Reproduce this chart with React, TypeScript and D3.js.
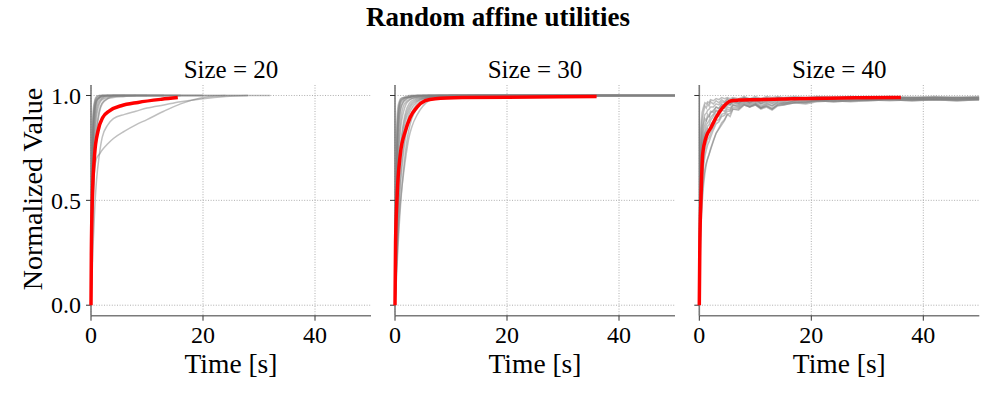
import React from 'react';
import * as d3 from 'd3';

// --- data ---
const chartTitle = 'Random affine utilities';
const panelTitles = ['Size = 20', 'Size = 30', 'Size = 40'];
const xTicks = [0, 20, 40];
const yTicks = [0, 0.5, 1];
const yTickLabels = ['0.0', '0.5', '1.0'];

// Size = 20
const times20 = [0, 0.2, 0.4, 0.7, 1, 1.5, 2, 3, 4, 6, 8, 10, 13, 16, 20, 24, 28, 32];
const runs20 = [
  [0, 0.62, 0.86, 0.95, 0.98, 0.99, 1.0, 1.0, 1.0, 1.0],
  [0, 0.55, 0.8, 0.93, 0.97, 0.99, 0.995, 1.0, 1.0, 1.0, 1.0, 1.0],
  [0, 0.45, 0.72, 0.88, 0.95, 0.98, 0.99, 1.0, 1.0, 1.0, 1.0, 1.0, 1.0, 1.0],
  [0, 0.7, 0.9, 0.97, 0.99, 1.0, 1.0, 1.0],
  [0, 0.38, 0.62, 0.8, 0.9, 0.96, 0.98, 0.99, 1.0, 1.0, 1.0, 1.0, 1.0, 1.0, 1.0],
  [0, 0.5, 0.78, 0.92, 0.97, 0.99, 1.0, 1.0, 1.0, 1.0, 1.0, 1.0, 1.0, 1.0, 1.0, 1.0],
  [0, 0.3, 0.52, 0.72, 0.84, 0.93, 0.965, 0.985, 0.99, 0.995, 1.0, 1.0, 1.0],
  [0, 0.65, 0.88, 0.96, 0.985, 0.995, 1.0, 1.0, 1.0, 1.0, 1.0, 1.0, 1.0, 1.0, 1.0, 1.0, 1.0],
  [0, 0.42, 0.68, 0.85, 0.93, 0.97, 0.985, 0.995, 1.0, 1.0, 1.0],
  [0, 0.35, 0.55, 0.66, 0.7, 0.72, 0.74, 0.77, 0.795, 0.83, 0.86, 0.885, 0.925, 0.96, 0.99, 1.0, 1.0, 1.0],
  [0, 0.15, 0.3, 0.48, 0.6, 0.72, 0.8, 0.86, 0.89, 0.91, 0.925, 0.94, 0.955, 0.97, 0.985, 0.995, 1.0],
  [0, 0.58, 0.83, 0.94, 0.975, 0.99, 0.995, 1.0, 1.0, 1.0, 1.0, 1.0, 1.0, 1.0],
  [0, 0.25, 0.48, 0.7, 0.82, 0.92, 0.96, 0.985, 0.995, 1.0, 1.0, 1.0, 1.0, 1.0, 1.0],
  [0, 0.75, 0.93, 0.98, 0.995, 1.0, 1.0, 1.0, 1.0, 1.0, 1.0, 1.0, 1.0],
];
const meanTimes20 = [0, 0.06, 0.24, 0.65, 1.25, 2.1, 3.3, 5.4, 8.4, 12.6, 15.5];
const mean20 = [0, 0.24, 0.51, 0.72, 0.83, 0.895, 0.927, 0.951, 0.967, 0.982, 0.99];

// Size = 30
const times30 = [0, 0.25, 0.5, 0.75, 1, 1.5, 2, 2.5, 3, 4, 5, 6, 8, 10, 15, 20, 30, 40, 50];
const runs30 = [
  [0, 0.7, 0.9, 0.96, 0.98, 0.99, 0.99, 0.995, 0.995, 1, 1, 1, 1, 1, 1, 1, 1, 1, 1],
  [0, 0.55, 0.82, 0.92, 0.96, 0.98, 0.99, 0.99, 0.995, 0.995, 1, 1, 1, 1, 1, 1, 1, 1, 1],
  [0, 0.4, 0.66, 0.8, 0.88, 0.95, 0.97, 0.98, 0.985, 0.99, 0.995, 1, 1, 1, 1, 1, 1, 1],
  [0, 0.3, 0.52, 0.66, 0.76, 0.87, 0.93, 0.96, 0.975, 0.985, 0.99, 0.995, 1, 1, 1, 1, 1, 1, 1],
  [0, 0.2, 0.38, 0.52, 0.62, 0.76, 0.85, 0.91, 0.94, 0.97, 0.985, 0.99, 0.995, 1, 1, 1, 1, 1, 1],
  [0, 0.15, 0.3, 0.42, 0.5, 0.62, 0.72, 0.8, 0.85, 0.91, 0.95, 0.975, 0.99, 0.995, 1, 1, 1, 1],
  [0, 0.6, 0.86, 0.94, 0.97, 0.985, 0.99, 0.995, 1, 1, 1, 1, 1, 1, 1, 1, 1, 1, 1],
  [0, 0.35, 0.6, 0.75, 0.84, 0.92, 0.96, 0.975, 0.985, 0.99, 0.995, 1, 1, 1, 1, 1, 1, 1, 1],
  [0, 0.25, 0.45, 0.6, 0.7, 0.82, 0.89, 0.93, 0.955, 0.975, 0.985, 0.99, 0.995, 1, 1, 1, 1, 1, 1],
  [0, 0.45, 0.74, 0.87, 0.93, 0.97, 0.985, 0.99, 0.995, 1, 1, 1, 1, 1, 1, 1, 1],
  [0, 0.18, 0.34, 0.48, 0.58, 0.72, 0.82, 0.88, 0.92, 0.96, 0.98, 0.99, 0.995, 1, 1, 1, 1, 1, 1],
  [0, 0.8, 0.94, 0.97, 0.985, 0.99, 0.995, 1, 1, 1, 1, 1, 1, 1, 1, 1, 1, 1, 1],
  [0, 0.28, 0.5, 0.64, 0.74, 0.85, 0.91, 0.945, 0.965, 0.98, 0.99, 0.995, 1, 1, 1, 1, 1, 1, 1],
  [0, 0.5, 0.78, 0.89, 0.94, 0.97, 0.98, 0.99, 0.99, 0.995, 1, 1, 1, 1, 1, 1, 1, 1, 1],
  [0, 0.12, 0.26, 0.38, 0.48, 0.64, 0.76, 0.84, 0.89, 0.94, 0.97, 0.985, 0.99, 0.995, 1, 1, 1, 1, 1],
  [0, 0.65, 0.88, 0.95, 0.975, 0.985, 0.99, 0.99, 0.995, 1, 1, 1, 1, 1, 1, 1, 1, 1, 1],
];
const meanTimes30 = [0, 0.1, 0.36, 0.95, 1.85, 2.7, 3.9, 5.4, 7.2, 12, 20, 36];
const mean30 = [0, 0.3, 0.51, 0.72, 0.83, 0.895, 0.943, 0.975, 0.985, 0.99, 0.992, 0.995];

// Size = 40 (noisy runs)
const times40 = [0, 0.25, 0.5, 0.75, 1, 1.25, 1.5, 1.75, 2, 2.5, 3, 3.5, 4, 4.5, 5, 5.5, 6, 7, 8, 9, 10, 11, 12, 13, 14, 15, 17, 19, 21, 24, 27, 30, 34, 38, 42, 46, 50];
const runs40 = [
  [0, 0.78, 0.88, 0.92, 0.95, 0.94, 0.96, 0.95, 0.97, 0.96, 0.975, 0.965, 0.98, 0.97, 0.985, 0.975, 0.985, 0.975, 0.99, 0.98, 0.99, 0.975, 0.99, 0.98, 0.99, 0.985, 0.99, 0.985, 0.99, 0.99, 0.985, 0.99, 0.99, 0.985, 0.99, 0.99, 0.99],
  [0, 0.66, 0.8, 0.86, 0.89, 0.88, 0.91, 0.9, 0.925, 0.92, 0.945, 0.935, 0.955, 0.95, 0.97, 0.96, 0.975, 0.965, 0.98, 0.965, 0.98, 0.96, 0.975, 0.965, 0.98, 0.975, 0.985, 0.98, 0.99, 0.985, 0.99, 0.985, 0.99, 0.99, 0.985, 0.99, 0.99],
  [0, 0.52, 0.68, 0.76, 0.8, 0.82, 0.84, 0.83, 0.86, 0.88, 0.91, 0.9, 0.93, 0.925, 0.945, 0.94, 0.955, 0.95, 0.97, 0.955, 0.965, 0.945, 0.96, 0.95, 0.965, 0.96, 0.975, 0.97, 0.98, 0.975, 0.98, 0.98, 0.985, 0.98, 0.985, 0.98, 0.985],
  [0, 0.38, 0.52, 0.6, 0.65, 0.68, 0.7, 0.72, 0.74, 0.78, 0.82, 0.84, 0.86, 0.88, 0.91, 0.9, 0.935, 0.93, 0.955, 0.945, 0.955, 0.935, 0.945, 0.93, 0.95, 0.955, 0.965, 0.96, 0.97, 0.975, 0.97, 0.975, 0.98, 0.975, 0.98, 0.975, 0.98],
  [0, 0.58, 0.72, 0.8, 0.83, 0.86, 0.87, 0.88, 0.895, 0.91, 0.93, 0.925, 0.945, 0.94, 0.96, 0.955, 0.97, 0.96, 0.98, 0.965, 0.975, 0.96, 0.97, 0.96, 0.975, 0.97, 0.985, 0.98, 0.985, 0.99, 0.985, 0.99, 0.99, 0.985, 0.99, 0.985, 0.99],
  [0, 0.46, 0.6, 0.69, 0.74, 0.77, 0.79, 0.8, 0.82, 0.85, 0.88, 0.885, 0.91, 0.915, 0.935, 0.93, 0.955, 0.945, 0.965, 0.95, 0.96, 0.94, 0.955, 0.94, 0.96, 0.965, 0.97, 0.965, 0.975, 0.98, 0.975, 0.98, 0.985, 0.98, 0.985, 0.98, 0.985],
  [0, 0.72, 0.84, 0.88, 0.91, 0.915, 0.93, 0.935, 0.945, 0.945, 0.96, 0.955, 0.97, 0.965, 0.98, 0.97, 0.985, 0.975, 0.99, 0.975, 0.985, 0.97, 0.985, 0.975, 0.99, 0.985, 0.99, 0.985, 0.99, 0.99, 0.99, 0.985, 0.99, 0.99, 0.99, 0.985, 0.99],
  [0, 0.34, 0.48, 0.57, 0.63, 0.67, 0.7, 0.72, 0.745, 0.785, 0.82, 0.845, 0.87, 0.885, 0.91, 0.915, 0.935, 0.935, 0.955, 0.945, 0.96, 0.94, 0.95, 0.935, 0.955, 0.96, 0.965, 0.97, 0.975, 0.97, 0.975, 0.98, 0.975, 0.98, 0.98, 0.975, 0.98],
  [0, 0.62, 0.76, 0.83, 0.86, 0.88, 0.895, 0.9, 0.915, 0.93, 0.945, 0.94, 0.96, 0.955, 0.97, 0.965, 0.975, 0.965, 0.985, 0.97, 0.985, 0.965, 0.98, 0.97, 0.985, 0.98, 0.985, 0.985, 0.99, 0.985, 0.99, 0.99, 0.985, 0.99, 0.99, 0.99, 0.985],
  [0, 0.55, 0.7, 0.78, 0.82, 0.835, 0.855, 0.86, 0.88, 0.9, 0.925, 0.92, 0.94, 0.94, 0.955, 0.955, 0.965, 0.955, 0.975, 0.96, 0.97, 0.95, 0.965, 0.95, 0.97, 0.965, 0.975, 0.975, 0.98, 0.98, 0.985, 0.98, 0.985, 0.985, 0.98, 0.985, 0.985],
  [0, 0.84, 0.92, 0.945, 0.965, 0.96, 0.97, 0.965, 0.98, 0.975, 0.985, 0.98, 0.99, 0.985, 0.99, 0.985, 0.99, 0.985, 0.995, 0.985, 0.995, 0.985, 0.995, 0.99, 0.995, 0.99, 0.995, 0.99, 0.995, 0.99, 0.995, 0.99, 0.995, 0.99, 0.995, 0.99, 0.995],
  [0, 0.42, 0.57, 0.66, 0.71, 0.74, 0.765, 0.78, 0.8, 0.835, 0.865, 0.875, 0.9, 0.905, 0.925, 0.925, 0.945, 0.94, 0.96, 0.945, 0.955, 0.94, 0.95, 0.935, 0.955, 0.955, 0.965, 0.965, 0.975, 0.97, 0.975, 0.975, 0.98, 0.975, 0.98, 0.98, 0.98],
];
const meanTimes40 = [0, 0.1, 0.3, 0.6, 1.2, 2.1, 3, 4.2, 5.7, 7, 10, 15, 20, 28, 36];
const mean40 = [0, 0.3, 0.51, 0.72, 0.8, 0.847, 0.895, 0.943, 0.975, 0.978, 0.98, 0.983, 0.986, 0.989, 0.99];

const panels = [
  { title: panelTitles[0], times: times20, runs: runs20, meanTimes: meanTimes20, mean: mean20, smooth: true },
  { title: panelTitles[1], times: times30, runs: runs30, meanTimes: meanTimes30, mean: mean30, smooth: true },
  { title: panelTitles[2], times: times40, runs: runs40, meanTimes: meanTimes40, mean: mean40, smooth: false },
];

// layout
const W = 997;
const H = 399;
const panelLefts = [91, 395, 699.3];
const panelW = 280;
const top = 85;
const bottom = 315.7;
const font = '"Liberation Serif", "Times New Roman", serif';

const y = d3.scaleLinear().domain([-0.05, 1.05]).range([bottom, top]);

const Panel = ({ p, left, idx }) => {
  const x = d3.scaleLinear().domain([0, 50]).range([left, left + panelW]);
  const line = d3.line()
    .x(d => x(d[0]))
    .y(d => y(d[1]))
    .curve(p.smooth ? d3.curveMonotoneX : d3.curveLinear);
  const meanLine = d3.line()
    .x(d => x(d[0]))
    .y(d => y(d[1]))
    .curve(d3.curveMonotoneX);
  const clipId = 'clip' + idx;
  const cx = left + panelW / 2;

  return (
    <g>
      <defs>
        <clipPath id={clipId}>
          <rect x={left - 3} y={top} width={panelW + 3} height={bottom - top} />
        </clipPath>
      </defs>
      {/* grid */}
      {yTicks.map(t => (
        <line key={'gy' + t} x1={left} x2={left + panelW} y1={y(t)} y2={y(t)}
          stroke="#9a9a9a" strokeWidth={0.8} strokeDasharray="1,1.6" />
      ))}
      {xTicks.map(t => (
        <line key={'gx' + t} x1={x(t)} x2={x(t)} y1={top} y2={bottom}
          stroke="#9a9a9a" strokeWidth={0.8} strokeDasharray="1,1.6" />
      ))}
      {/* spines */}
      <line x1={left} x2={left} y1={top} y2={bottom} stroke="#7a7a7a" strokeWidth={1.6} />
      <line x1={left} x2={left + panelW} y1={bottom} y2={bottom} stroke="#7a7a7a" strokeWidth={1.6} />
      {/* ticks */}
      {yTicks.map((t, i) => (
        <g key={'ty' + t}>
          <line x1={left - 5} x2={left} y1={y(t)} y2={y(t)} stroke="#333" strokeWidth={1} />
          {idx === 0 && (
            <text x={left - 10} y={y(t)} dy="0.34em" textAnchor="end" fontSize={24} fontFamily={font}>
              {yTickLabels[i]}
            </text>
          )}
        </g>
      ))}
      {xTicks.map(t => (
        <g key={'tx' + t}>
          <line x1={x(t)} x2={x(t)} y1={bottom} y2={bottom + 5} stroke="#333" strokeWidth={1} />
          <text x={x(t)} y={343} textAnchor="middle" fontSize={24} fontFamily={font}>{t}</text>
        </g>
      ))}
      {/* runs */}
      <g clipPath={`url(#${clipId})`}>
        {p.runs.map((r, i) => (
          <path key={i} d={line(r.map((v, j) => [p.times[j], v]))}
            fill="none" stroke="gray" strokeOpacity={0.5} strokeWidth={1.5} />
        ))}
        <path d={meanLine(p.mean.map((v, j) => [p.meanTimes[j], v]))}
          fill="none" stroke="red" strokeWidth={3.5} />
      </g>
      {/* labels */}
      <text x={cx} y={78} textAnchor="middle" fontSize={25} fontFamily={font}>{p.title}</text>
      <text x={cx} y={373} textAnchor="middle" fontSize={27.5} fontFamily={font}>Time [s]</text>
    </g>
  );
};

export default function App() {
  return (
    <svg width={W} height={H} style={{ position: 'absolute', left: 0, top: 0, background: '#fff' }}>
      <text x={498} y={26} textAnchor="middle" fontSize={27} fontWeight="bold" fontFamily={font}>
        {chartTitle}
      </text>
      <text transform={`translate(42,189) rotate(-90)`} textAnchor="middle" fontSize={28} fontFamily={font}>
        Normalized Value
      </text>
      {panels.map((p, i) => (
        <Panel key={i} p={p} left={panelLefts[i]} idx={i} />
      ))}
    </svg>
  );
}
